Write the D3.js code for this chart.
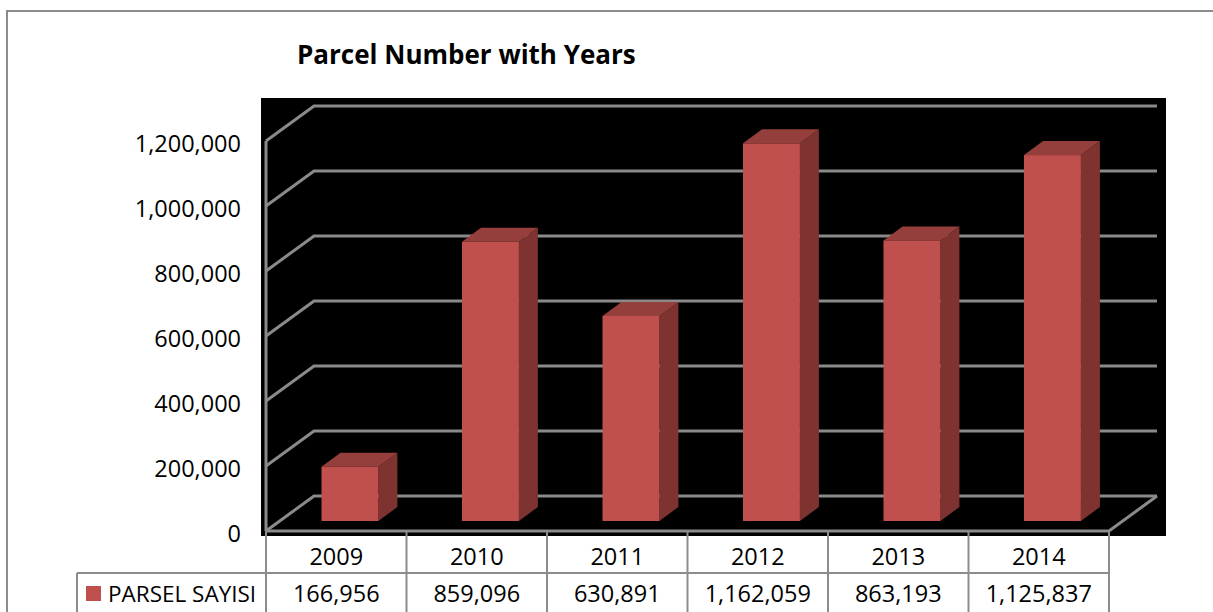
<!DOCTYPE html>
<html><head><meta charset="utf-8">
<script src="https://cdn.jsdelivr.net/npm/d3@7"></script>
<style>html,body{margin:0;padding:0;background:#fff;}svg{display:block;font-family:"Open Sans",Lato,sans-serif;}</style>
</head><body>
<svg id="c" width="1213" height="612"></svg>
<script>
const categories = ["2009","2010","2011","2012","2013","2014"];
const values = [166956, 859096, 630891, 1162059, 863193, 1125837];
const tickValues = [0, 200000, 400000, 600000, 800000, 1000000, 1200000];
const seriesName = "PARSEL SAYISI";
const title = "Parcel Number with Years";

const svg = d3.select("#c");
const fmt = d3.format(",");

// geometry
const plot = {x:261, y:98, w:905, h:438};
const floorY = 531;
const DX = 48, DY = -35;           // wall depth
const barOX = 13.7, barOY = -10;   // bar front offset into depth
const barDX = 19, barDY = -14;     // bar depth

const x = d3.scaleBand().domain(categories).range([266, 1109]).padding(0);
const h = d3.scaleLinear().domain([0, 1200000]).range([0, 390]);

// outer border
svg.append("path").attr("d","M7,612 L7,11 L1213,11").attr("fill","none").attr("stroke","#8c8c8c").attr("stroke-width",2);

// title
svg.append("text").attr("x",297).attr("y",64).attr("font-weight","bold").attr("font-size",26).attr("fill","#000").text(title);

// plot background
svg.append("rect").attr("x",plot.x).attr("y",plot.y).attr("width",plot.w).attr("height",plot.h).attr("fill","#000");

const grid = svg.append("g").attr("stroke","#8a8a8a").attr("stroke-width",3).attr("fill","none");
const xL = x.range()[0], xR = x.range()[1];
tickValues.forEach(v => {
  const yf = floorY - h(v);
  grid.append("path").attr("d", `M${xL},${yf} L${xL+DX},${yf+DY} L${xR+DX},${yf+DY}`);
});
grid.append("line").attr("x1",xL).attr("x2",xL).attr("y1",floorY - h(1200000)).attr("y2",floorY);
grid.append("path").attr("d", `M${xL},${floorY} L${xR},${floorY} L${xR+DX},${floorY+DY}`);

// y labels
svg.append("g").selectAll("text").data(tickValues).join("text")
  .attr("x",241).attr("y",d => floorY - h(d) + 2).attr("text-anchor","end").attr("dominant-baseline","central")
  .attr("font-size",23.5).attr("fill","#000").text(d => fmt(d));

// bars
const bw = x.bandwidth()*0.405;
const bars = svg.append("g");
categories.forEach((c,i) => {
  const v = values[i];
  const cx = x(c) + x.bandwidth()/2 + barOX;
  const x0 = cx - bw/2, x1 = cx + bw/2;
  const yb = floorY + barOY, yt = yb - h(v);
  bars.append("path").attr("d",`M${x1},${yb} L${x1+barDX},${yb+barDY} L${x1+barDX},${yt+barDY} L${x1},${yt}Z`).attr("fill","#7e3331");
  bars.append("path").attr("d",`M${x0},${yt} L${x1},${yt} L${x1+barDX},${yt+barDY} L${x0+barDX},${yt+barDY}Z`).attr("fill","#953f3c");
  bars.append("rect").attr("x",x0).attr("y",yt).attr("width",bw).attr("height",h(v)).attr("fill","#c0504d");
});

// data table
const tbl = svg.append("g").attr("stroke","#8c8c8c").attr("stroke-width",2);
const rowY = 573;
categories.concat(["end"]).forEach((c,i) => {
  const xx = i < categories.length ? x(c) : xR;
  tbl.append("line").attr("x1",xx).attr("x2",xx).attr("y1",floorY).attr("y2",612);
});
tbl.append("line").attr("x1",77).attr("x2",xR).attr("y1",rowY).attr("y2",rowY);
tbl.append("line").attr("x1",77).attr("x2",77).attr("y1",rowY).attr("y2",612);

const tt = svg.append("g").attr("font-size",23.5).attr("fill","#000").attr("text-anchor","middle").attr("dominant-baseline","central");
categories.forEach((c,i) => {
  tt.append("text").attr("x",x(c)+x.bandwidth()/2).attr("y",556).text(c);
  tt.append("text").attr("x",x(c)+x.bandwidth()/2).attr("y",593).text(fmt(values[i]));
});
svg.append("rect").attr("x",86).attr("y",586).attr("width",15).attr("height",15).attr("fill","#c0504d");
svg.append("text").attr("x",108).attr("y",593).attr("dominant-baseline","central").attr("font-size",22.5).attr("fill","#000").text(seriesName);
</script>
</body></html>
